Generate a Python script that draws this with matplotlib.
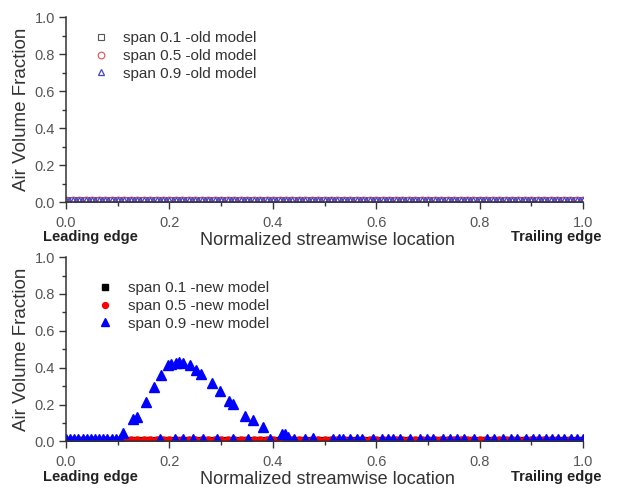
import matplotlib
matplotlib.use("Agg")
import matplotlib.pyplot as plt
from matplotlib.ticker import MultipleLocator

plt.rcParams['font.family'] = ['Liberation Sans', 'DejaVu Sans']

# ---- data ----
# streamwise stations shared by the baseline series
x_station = [0.000, 0.013, 0.025, 0.038, 0.050, 0.063, 0.075, 0.088, 0.100, 0.113,
             0.125, 0.138, 0.150, 0.163, 0.175, 0.188, 0.200, 0.213, 0.225, 0.238,
             0.250, 0.263, 0.275, 0.288, 0.300, 0.313, 0.325, 0.338, 0.350, 0.363,
             0.375, 0.388, 0.400, 0.413, 0.425, 0.438, 0.450, 0.463, 0.475, 0.488,
             0.500, 0.513, 0.525, 0.538, 0.550, 0.563, 0.575, 0.588, 0.600, 0.613,
             0.625, 0.638, 0.650, 0.663, 0.675, 0.688, 0.700, 0.713, 0.725, 0.738,
             0.750, 0.763, 0.775, 0.788, 0.800, 0.813, 0.825, 0.838, 0.850, 0.863,
             0.875, 0.888, 0.900, 0.913, 0.925, 0.938, 0.950, 0.963, 0.975, 0.988,
             1.000]

# old model: all three spans stay ~0.01
y_old_01 = [0.011, 0.010, 0.011, 0.010, 0.011, 0.010, 0.011, 0.011, 0.010, 0.011,
            0.010, 0.011, 0.010, 0.011, 0.010, 0.011, 0.011, 0.010, 0.011, 0.010,
            0.011, 0.010, 0.011, 0.010, 0.011, 0.010, 0.011, 0.011, 0.010, 0.011,
            0.010, 0.011, 0.010, 0.011, 0.010, 0.011, 0.011, 0.010, 0.011, 0.010,
            0.011, 0.010, 0.011, 0.010, 0.011, 0.010, 0.011, 0.011, 0.010, 0.011,
            0.010, 0.011, 0.010, 0.011, 0.010, 0.011, 0.011, 0.010, 0.011, 0.010,
            0.011, 0.010, 0.011, 0.010, 0.011, 0.010, 0.011, 0.011, 0.010, 0.011,
            0.010, 0.011, 0.010, 0.011, 0.010, 0.011, 0.011, 0.010, 0.011, 0.010,
            0.011]
y_old_05 = [0.012, 0.011, 0.012, 0.012, 0.011, 0.012, 0.011, 0.012, 0.012, 0.011,
            0.012, 0.011, 0.012, 0.012, 0.011, 0.012, 0.011, 0.012, 0.012, 0.011,
            0.012, 0.011, 0.012, 0.012, 0.011, 0.012, 0.011, 0.012, 0.012, 0.011,
            0.012, 0.011, 0.012, 0.012, 0.011, 0.012, 0.011, 0.012, 0.012, 0.011,
            0.012, 0.011, 0.012, 0.012, 0.011, 0.012, 0.011, 0.012, 0.012, 0.011,
            0.012, 0.011, 0.012, 0.012, 0.011, 0.012, 0.011, 0.012, 0.012, 0.011,
            0.012, 0.011, 0.012, 0.012, 0.011, 0.012, 0.011, 0.012, 0.012, 0.011,
            0.012, 0.011, 0.012, 0.012, 0.011, 0.012, 0.011, 0.012, 0.012, 0.011,
            0.012]
y_old_09 = [0.013, 0.012, 0.013, 0.012, 0.013, 0.013, 0.012, 0.013, 0.012, 0.013,
            0.013, 0.012, 0.013, 0.012, 0.013, 0.013, 0.012, 0.013, 0.012, 0.013,
            0.013, 0.012, 0.013, 0.012, 0.013, 0.013, 0.012, 0.013, 0.012, 0.013,
            0.013, 0.012, 0.013, 0.012, 0.013, 0.013, 0.012, 0.013, 0.012, 0.013,
            0.013, 0.012, 0.013, 0.012, 0.013, 0.013, 0.012, 0.013, 0.012, 0.013,
            0.013, 0.012, 0.013, 0.012, 0.013, 0.013, 0.012, 0.013, 0.012, 0.013,
            0.013, 0.012, 0.013, 0.012, 0.013, 0.013, 0.012, 0.013, 0.012, 0.013,
            0.013, 0.012, 0.013, 0.012, 0.013, 0.013, 0.012, 0.013, 0.012, 0.013,
            0.013]
# old model span 0.9: extra pressure-side points between stations
x_old_09b = [0.006, 0.019, 0.031, 0.044, 0.056, 0.069, 0.081, 0.094, 0.106, 0.119,
             0.131, 0.144, 0.156, 0.169, 0.181, 0.194, 0.206, 0.219, 0.231, 0.244,
             0.256, 0.269, 0.281, 0.294, 0.306, 0.319, 0.331, 0.344, 0.356, 0.369,
             0.381, 0.394, 0.406, 0.419, 0.431, 0.444, 0.456, 0.469, 0.481, 0.494,
             0.506, 0.519, 0.531, 0.544, 0.556, 0.569, 0.581, 0.594, 0.606, 0.619,
             0.631, 0.644, 0.656, 0.669, 0.681, 0.694, 0.706, 0.719, 0.731, 0.744,
             0.756, 0.769, 0.781, 0.794, 0.806, 0.819, 0.831, 0.844, 0.856, 0.869,
             0.881, 0.894, 0.906, 0.919, 0.931, 0.944, 0.956, 0.969, 0.981, 0.994]
y_old_09b = [0.012, 0.013, 0.012, 0.012, 0.013, 0.012, 0.012, 0.013, 0.012, 0.012,
             0.013, 0.012, 0.012, 0.013, 0.012, 0.012, 0.013, 0.012, 0.012, 0.013,
             0.012, 0.012, 0.013, 0.012, 0.012, 0.013, 0.012, 0.012, 0.013, 0.012,
             0.012, 0.013, 0.012, 0.012, 0.013, 0.012, 0.012, 0.013, 0.012, 0.012,
             0.013, 0.012, 0.012, 0.013, 0.012, 0.012, 0.013, 0.012, 0.012, 0.013,
             0.012, 0.012, 0.013, 0.012, 0.012, 0.013, 0.012, 0.012, 0.013, 0.012,
             0.012, 0.013, 0.012, 0.012, 0.013, 0.012, 0.012, 0.013, 0.012, 0.012,
             0.013, 0.012, 0.012, 0.013, 0.012, 0.012, 0.013, 0.012, 0.012, 0.013]

# new model: span 0.1 and 0.5 stay ~0.01, span 0.9 shows a cavity near 0.2
y_new_01 = [0.008, 0.008, 0.009, 0.008, 0.008, 0.009, 0.008, 0.008, 0.009, 0.008,
            0.008, 0.009, 0.008, 0.008, 0.009, 0.008, 0.008, 0.009, 0.008, 0.008,
            0.009, 0.008, 0.008, 0.009, 0.008, 0.008, 0.009, 0.008, 0.008, 0.009,
            0.008, 0.008, 0.009, 0.008, 0.008, 0.009, 0.008, 0.008, 0.009, 0.008,
            0.008, 0.009, 0.008, 0.008, 0.009, 0.008, 0.008, 0.009, 0.008, 0.008,
            0.009, 0.008, 0.008, 0.009, 0.008, 0.008, 0.009, 0.008, 0.008, 0.009,
            0.008, 0.008, 0.009, 0.008, 0.008, 0.009, 0.008, 0.008, 0.009, 0.008,
            0.008, 0.009, 0.008, 0.008, 0.009, 0.008, 0.008, 0.009, 0.008, 0.008,
            0.009]
y_new_05 = [0.009, 0.009, 0.008, 0.009, 0.009, 0.008, 0.009, 0.009, 0.008, 0.009,
            0.009, 0.008, 0.009, 0.009, 0.008, 0.009, 0.009, 0.008, 0.009, 0.009,
            0.008, 0.009, 0.009, 0.008, 0.009, 0.009, 0.008, 0.009, 0.009, 0.008,
            0.009, 0.009, 0.008, 0.009, 0.009, 0.008, 0.009, 0.009, 0.008, 0.009,
            0.009, 0.008, 0.009, 0.009, 0.008, 0.009, 0.009, 0.008, 0.009, 0.009,
            0.008, 0.009, 0.009, 0.008, 0.009, 0.009, 0.008, 0.009, 0.009, 0.008,
            0.009, 0.009, 0.008, 0.009, 0.009, 0.008, 0.009, 0.009, 0.008, 0.009,
            0.009, 0.008, 0.009, 0.009, 0.008, 0.009, 0.009, 0.008, 0.009, 0.009,
            0.008]
x_new_09 = [0.000, 0.008, 0.016, 0.024, 0.032, 0.040, 0.048, 0.056, 0.064, 0.072,
            0.080, 0.088, 0.096, 0.104, 0.111, 0.130, 0.137, 0.154, 0.171, 0.183,
            0.197, 0.203, 0.212, 0.219, 0.226, 0.239, 0.252, 0.261, 0.282, 0.297,
            0.316, 0.322, 0.347, 0.361, 0.381, 0.418, 0.424, 0.430, 0.440, 0.478,
            0.182, 0.211, 0.226, 0.246, 0.265, 0.292, 0.323, 0.352, 0.395, 0.462,
            0.516, 0.527, 0.536, 0.549, 0.562, 0.573, 0.594, 0.612, 0.622, 0.633,
            0.645, 0.666, 0.685, 0.698, 0.710, 0.729, 0.743, 0.757, 0.770, 0.790,
            0.815, 0.828, 0.845, 0.860, 0.872, 0.890, 0.903, 0.915, 0.928, 0.940,
            0.952, 0.964, 0.976, 0.988, 1.000]
y_new_09 = [0.012, 0.011, 0.012, 0.011, 0.012, 0.011, 0.012, 0.011, 0.012, 0.011,
            0.012, 0.011, 0.012, 0.015, 0.045, 0.120, 0.135, 0.215, 0.297, 0.362,
            0.415, 0.422, 0.425, 0.430, 0.427, 0.413, 0.388, 0.368, 0.318, 0.273,
            0.222, 0.205, 0.140, 0.114, 0.078, 0.042, 0.040, 0.025, 0.013, 0.020,
            0.011, 0.012, 0.011, 0.012, 0.011, 0.012, 0.011, 0.012, 0.011, 0.012,
            0.011, 0.012, 0.011, 0.012, 0.011, 0.012, 0.011, 0.012, 0.011, 0.012,
            0.011, 0.012, 0.011, 0.012, 0.011, 0.012, 0.011, 0.012, 0.011, 0.012,
            0.011, 0.012, 0.011, 0.012, 0.011, 0.012, 0.011, 0.012, 0.011, 0.012,
            0.011, 0.012, 0.011, 0.012, 0.011]

TXT = "#333333"

fig = plt.figure(figsize=(6.17, 4.93), dpi=100)
ax1 = fig.add_axes([0.107, 0.590, 0.838, 0.375])
ax2 = fig.add_axes([0.107, 0.1045, 0.838, 0.374])


def style(ax):
    ax.set_xlim(0, 1.0); ax.set_ylim(0, 1.0)
    for s in ("top", "right"):
        ax.spines[s].set_visible(False)
    for s in ("left", "bottom"):
        ax.spines[s].set_linewidth(1.1)
        ax.spines[s].set_color("#333333")
    ax.xaxis.set_major_locator(MultipleLocator(0.2)); ax.xaxis.set_minor_locator(MultipleLocator(0.1))
    ax.yaxis.set_major_locator(MultipleLocator(0.2)); ax.yaxis.set_minor_locator(MultipleLocator(0.1))
    ax.tick_params(which="major", direction="out", length=5, width=1.0, labelsize=10.5,
                   labelcolor="#555555", color="#333333")
    ax.tick_params(which="minor", direction="out", length=3, width=1.0, color="#333333")
    ax.tick_params(axis="x", pad=5); ax.tick_params(axis="y", pad=3)
    ax.xaxis.set_major_formatter(lambda v, p: f"{v:.1f}")
    ax.yaxis.set_major_formatter(lambda v, p: f"{v:.1f}")
    ax.set_ylabel("Air Volume Fraction", fontsize=13.5, color=TXT)
    ax.yaxis.set_label_coords(-0.07, 0.5)
    ax.text(0.505, -0.205, "Normalized streamwise location", transform=ax.transAxes,
            ha="center", va="center", fontsize=13, color=TXT)
    ax.text(0.048, -0.19, "Leading edge", transform=ax.transAxes, ha="center", va="center",
            fontsize=10.5, fontweight="bold", color="#222222")
    ax.text(0.948, -0.19, "Trailing edge", transform=ax.transAxes, ha="center", va="center",
            fontsize=10.5, fontweight="bold", color="#222222")


style(ax1); style(ax2)

# top: old model, open markers
ax1.plot(x_station, y_old_01, ls="none", marker="s", ms=4.5, mfc="none", mec="#555555", mew=0.8,
         label="span 0.1 -old model")
ax1.plot(x_station, y_old_05, ls="none", marker="o", ms=4.8, mfc="none", mec="#e05050", mew=0.8,
         label="span 0.5 -old model")
ax1.plot(x_station, y_old_09, ls="none", marker="^", ms=5, mfc="none", mec="#4444cc", mew=0.9,
         label="span 0.9 -old model")
ax1.plot(x_old_09b, y_old_09b, ls="none", marker="^", ms=5, mfc="none", mec="#4444cc", mew=0.9)
ax1.legend(loc="upper left", bbox_to_anchor=(0.052, 0.925), frameon=False, fontsize=11,
           handlelength=1.0, handletextpad=0.95, labelspacing=0.25, borderpad=0, borderaxespad=0,
           labelcolor=TXT)

# bottom: new model, filled markers
ax2.plot(x_station, y_new_01, ls="none", marker="s", ms=4.5, color="#000000",
         label="span 0.1 -new model")
ax2.plot(x_station, y_new_05, ls="none", marker="o", ms=5, color="#ff0000",
         label="span 0.5 -new model")
ax2.plot(x_new_09, y_new_09, ls="none", marker="^", ms=6.5, color="#0000ff",
         label="span 0.9 -new model")
ax2.legend(loc="upper left", bbox_to_anchor=(0.06, 0.87), frameon=False, fontsize=11,
           handlelength=1.0, handletextpad=1.0, labelspacing=0.25, borderpad=0, borderaxespad=0,
           labelcolor=TXT, markerscale=0.85)

fig.savefig("out.png", dpi=100)
